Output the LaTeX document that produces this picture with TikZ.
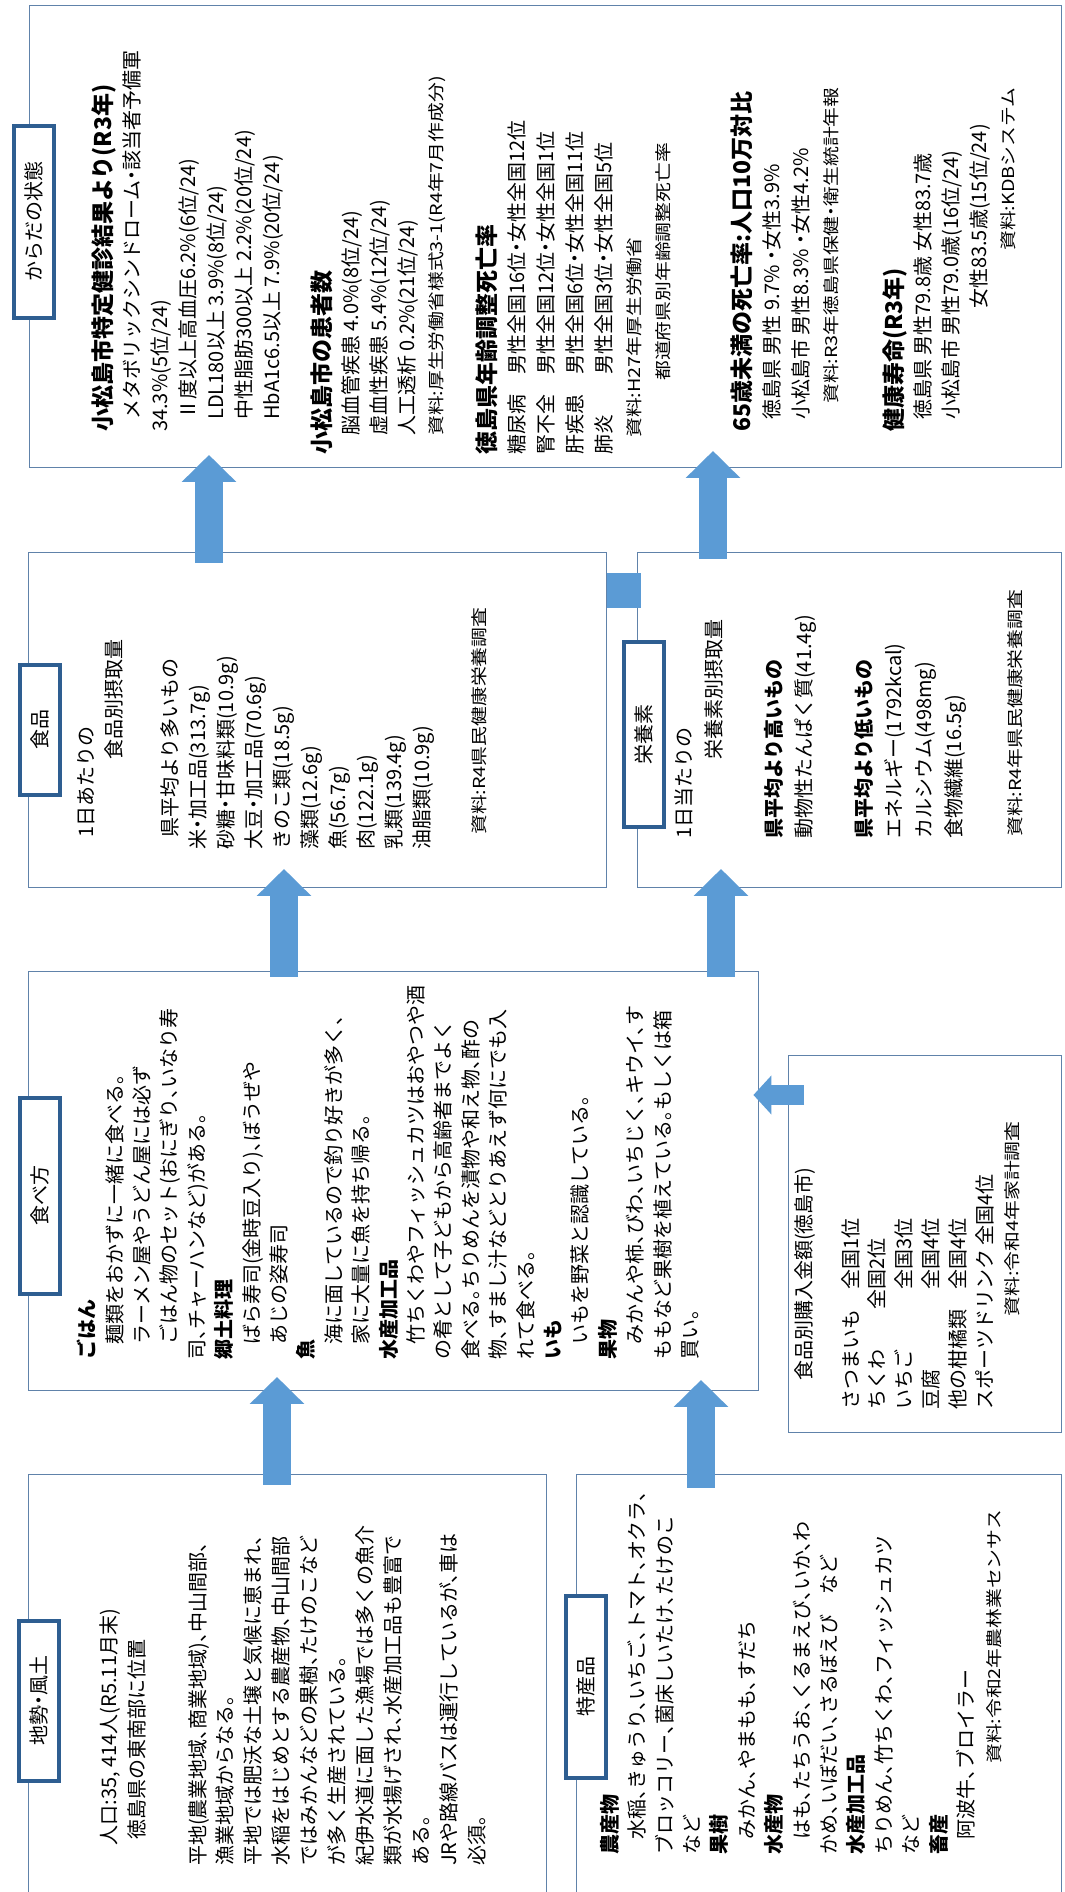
\documentclass[tikz,border=0pt]{standalone}
\usepackage{fontspec}
\setmainfont{Noto Sans CJK JP}[RawFeature=+halt]
\newfontfamily\srcfont{Noto Sans CJK JP}[RawFeature=+halt,FakeStretch=1.2]
\usetikzlibrary{arrows.meta,calc}
\definecolor{boxline}{RGB}{96,130,170}
\definecolor{tabline}{RGB}{46,94,145}
\definecolor{arrowblue}{RGB}{91,155,213}
\newcommand\hdg[1]{{\fontsize{23}{28}\selectfont\bfseries #1}}
\newcommand\bd[1]{{\bfseries #1}}
\newcommand\src[1]{{\srcfont\fontsize{16.5}{28}\selectfont #1}}
\newcommand\indt[1][12pt]{\hspace*{#1}}
\tikzset{
  panel/.style={draw=boxline, line width=1.4pt, anchor=south west, inner sep=0pt},
  labeltab/.style={draw=tabline, line width=4pt, fill=white, rotate=90,
    minimum height=40pt, inner sep=0pt, font=\fontsize{20}{24}\selectfont},
  txt/.style={rotate=90, anchor=north west, inner sep=0pt, align=left,
    font=\fontsize{20}{#1}\selectfont},
  txt/.default=28,
  uparrow/.style={draw=arrowblue, line width=28pt, -{Triangle[length=27pt,width=53pt]}},
  sidearrow/.style={draw=arrowblue, line width=20pt, -{Triangle[length=18pt,width=38pt]}},
  joinbar/.style={draw=arrowblue, line width=35pt}
}

\begin{document}
\begin{tikzpicture}[x=1pt,y=1pt]
    % Page
    \path[use as bounding box, fill=white] (0,0) rectangle (1065,1892);

    % Boxes
    \node[panel, minimum width=1032pt, minimum height=462pt] (karada) at (29,1424) {};
    \node[panel, minimum width=578pt, minimum height=335pt] (shokuhin) at (28,1004) {};
    \node[panel, minimum width=424pt, minimum height=335pt] (eiyou) at (637,1004) {};
    \node[panel, minimum width=730pt, minimum height=419pt] (tabekata) at (28,501) {};
    \node[panel, minimum width=273pt, minimum height=377pt] (kounyu) at (788,459) {};
    \node[panel, minimum width=518pt, minimum height=427pt] (chisei) at (28,-10) {};
    \node[panel, minimum width=485pt, minimum height=427pt] (tokusan) at (576,-10) {};

    % Arrows
    \coordinate (ax1) at (209,0);
    \coordinate (ax2) at (713,0);
    \coordinate (ax3) at (721,0);
    \coordinate (ax4) at (284,0);
    \coordinate (ax5) at (277,0);
    \coordinate (ax6) at (701,0);
    \coordinate (ay7) at (0,797);
    \coordinate (jbar) at (0,1301.5);
    \draw[uparrow] ($(shokuhin.north -| ax1)+(0,-11)$) -- ($(karada.south -| ax1)+(0,13)$);
    \draw[uparrow] ($(eiyou.north -| ax2)+(0,-7)$) -- ($(karada.south -| ax2)+(0,17)$);
    \draw[uparrow] ($(tabekata.north -| ax3)+(0,-6)$) -- ($(eiyou.south -| ax3)+(0,19)$);
    \draw[uparrow] ($(tabekata.north -| ax4)+(0,-6)$) -- ($(shokuhin.south -| ax4)+(0,19)$);
    \draw[uparrow] ($(chisei.north -| ax5)+(0,-11)$) -- ($(tabekata.south -| ax5)+(0,14)$);
    \draw[uparrow] ($(tokusan.north -| ax6)+(0,-14)$) -- ($(tabekata.south -| ax6)+(0,11)$);
    \draw[sidearrow] ($(kounyu.west |- ay7)+(16,0)$) -- ($(tabekata.east |- ay7)+(-6,0)$);
    \draw[joinbar] (shokuhin.east |- jbar) -- ($(eiyou.west |- jbar)+(4,0)$);

    % Tabs
    \node[labeltab, minimum width=192pt] (tkarada) at (34,1670) {からだの状態};
    \node[labeltab, minimum width=130pt] (tshokuhin) at (40,1162) {食品};
    \node[labeltab, minimum width=185pt] (teiyou) at (644,1157.5) {栄養素};
    \node[labeltab, minimum width=196pt] (ttabekata) at (40,696) {食べ方};
    \node[labeltab, minimum width=160pt] (tchisei) at (38.5,191) {地勢・風土};
    \node[labeltab, minimum width=182pt] (ttokusan) at (586,205) {特産品};

    % Body state
    \node[txt] (k1) at (92,1460) {\hdg{小松島市特定健診結果より(R3年)}\\
        \indt メタボリックシンドローム・該当者予備軍\\
        34.3\%(5位/24)\\
        \indt Ⅱ度以上高血圧6.2\%(6位/24)\\
        \indt LDL180以上 3.9\%(8位/24)\\
        \indt 中性脂肪300以上 2.2\%(20位/24)\\
        \indt HbA1c6.5以上 7.9\%(20位/24)};
    \node[txt] (k2) at (311,1437) {\hdg{小松島市の患者数}\\
        \indt[19pt]脳血管疾患 4.0\%(8位/24)\\
        \indt[19pt]虚血性疾患 5.4\%(12位/24)\\
        \indt[19pt]人工透析 0.2\%(21位/24)\\
        \indt[19pt]\src{資料:厚生労働省様式3-1(R4年7月作成分)}};
    \node[txt=29] (k3) at (476,1437) {\hdg{徳島県年齢調整死亡率}\\
        糖尿病　男性全国16位・女性全国12位\\
        腎不全　男性全国12位・女性全国1位\\
        肝疾患　男性全国6位・女性全国11位\\
        肺炎　　男性全国3位・女性全国5位\\
        \indt[17pt]\src{資料:H27年厚生労働省}\\
        \indt[74pt]\src{都道府県別年齢調整死亡率}};
    \node[txt=29] (k4) at (731,1460) {\hdg{65歳未満の死亡率:人口10万対比}\\
        \indt 徳島県 男性 9.7\% ・女性3.9\%\\
        \indt 小松島市 男性8.3\% ・女性4.2\%\\
        \indt[28pt]\src{資料:R3年徳島県保健・衛生統計年報}};
    \node[txt] (k5) at (883,1460) {\hdg{健康寿命(R3年)}\\
        \indt 徳島県 男性79.8歳 女性83.7歳\\
        \indt 小松島市 男性79.0歳(16位/24)\\
        \indt[123pt]女性83.5歳(15位/24)\\
        \indt[181pt]\src{資料:KDBシステム}};

    % Foods
    \node[txt] (s1) at (77.5,1042) {\indt 1日あたりの\\
        \indt[90pt]食品別摂取量\\[28pt]
        \indt 県平均より多いもの\\
        米・加工品(313.7g)\\
        砂糖・甘味料類(10.9g)\\
        大豆・加工品(70.6g)\\
        きのこ類(18.5g)\\
        藻類(12.6g)\\
        魚(56.7g)\\
        肉(122.1g)\\
        乳類(139.4g)\\
        油脂類(10.9g)\\[28pt]
        \indt[15pt]\src{資料:R4県民健康栄養調査}};

    % Nutrients
    \node[txt=30] (e1) at (674,1053) {1日当たりの\\
        \indt[79pt]栄養素別摂取量\\[30pt]
        \bd{県平均より高いもの}\\
        動物性たんぱく質(41.4g)\\[30pt]
        \bd{県平均より低いもの}\\
        エネルギー(1792kcal)\\
        カルシウム(498mg)\\
        食物繊維(16.5g)\\[30pt]
        \indt[2pt]\src{資料:R4年県民健康栄養調査}};

    % Eating habits
    \node[txt=27.4] (t1) at (77,532) {\bd{ごはん}\\
        \indt[15pt]麺類をおかずに一緒に食べる。\\
        \indt[15pt]ラーメン屋やうどん屋には必ず\\
        \indt[15pt]ごはん物のセット(おにぎり、いなり寿\\
        司、チャーハンなど)がある。\\
        \bd{郷土料理}\\
        \indt[15pt]ばら寿司(金時豆入り)、ぼうぜや\\
        \indt[15pt]あじの姿寿司\\
        \bd{魚}\\
        \indt[15pt]海に面しているので釣り好きが多く、\\
        \indt[15pt]家に大量に魚を持ち帰る。\\
        \bd{水産加工品}\\
        \indt[15pt]竹ちくわやフィッシュカツはおやつや酒\\
        の肴として子どもから高齢者までよく\\
        食べる。ちりめんを漬物や和え物、酢の\\
        物、すまし汁などとりあえず何にでも入\\
        れて食べる。\\
        \bd{いも}\\
        \indt[15pt]いもを野菜と認識している。\\
        \bd{果物}\\
        \indt[15pt]みかんや柿、びわ、いちじく、キウイ、す\\
        ももなど果樹を植えている。もしくは箱\\
        買い。};

    % Purchases
    \node[txt] (m1) at (794.5,511) {食品別購入金額(徳島市)};
    \node[txt=26.8] (m2) at (841,482.5) {さつまいも　全国1位\\
        ちくわ　　全国2位\\
        いちご　　　全国3位\\
        豆腐　　　　全国4位\\
        他の柑橘類　全国4位\\
        スポーツドリンク 全国4位\\
        \indt[93pt]\src{資料:令和4年家計調査}};

    % Geography
    \node[txt=28.5] (c1) at (99,46.5) {人口:35, 414人(R5.11月末)\\
        \indt[6pt]徳島県の東南部に位置};
    \node[txt=27.9] (c2) at (188,26) {平地(農業地域、商業地域)、中山間部、\\
        漁業地域からなる。\\
        平地では肥沃な土壌と気候に恵まれ、\\
        水稲をはじめとする農産物、中山間部\\
        ではみかんなどの果樹、たけのこなど\\
        が多く生産されている。\\
        紀伊水道に面した漁場では多くの魚介\\
        類が水揚げされ、水産加工品も豊富で\\
        ある。\\
        JRや路線バスは運行しているが、車は\\
        必須。};

    % Local products
    \node[txt=27.4] (p1) at (600,37) {\bd{農産物}\\
        \indt[15pt]水稲、きゅうり、いちご、トマト、オクラ、\\
        ブロッコリー、菌床しいたけ、たけのこ\\
        など\\
        \bd{果樹}\\
        \indt[15pt]みかん、やまもも、すだち\\
        \bd{水産物}\\
        \indt[15pt]はも、たちうお、くるまえび、いか、わ\\
        かめ、いぼだい、さるぼえび　など\\
        \bd{水産加工品}\\
        ちりめん、竹ちくわ、フィッシュカツ\\
        など\\
        \bd{畜産}\\
        \indt[15pt]阿波牛、ブロイラー\\
        \indt[91pt]\src{資料:令和2年農林業センサス}};
\end{tikzpicture}
\end{document}
